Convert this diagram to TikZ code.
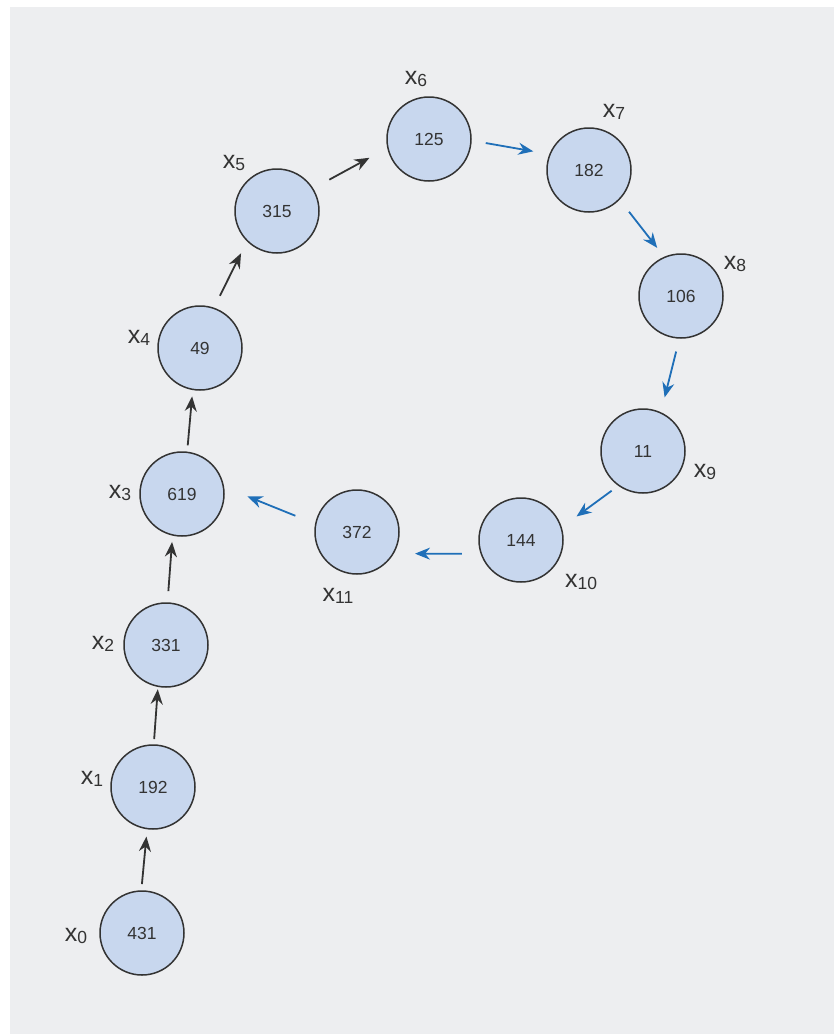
\documentclass[tikz,border=0pt]{standalone}
\usepackage{fontspec}
\setmainfont{Liberation Sans}
\usetikzlibrary{arrows.meta}
\definecolor{bg}{HTML}{EDEEF0}
\definecolor{nodefill}{HTML}{C8D7EE}
\definecolor{ink}{HTML}{333333}
\definecolor{blueline}{HTML}{1F6FB8}
\newcommand{\lbl}[1]{{\fontsize{25}{25}\selectfont x}\raisebox{-2.5pt}{\fontsize{17.5}{17.5}\selectfont #1}}
\tikzset{
  numnode/.style={circle, draw=ink, line width=1.5pt, fill=nodefill, minimum size=84pt, inner sep=0pt, outer sep=0pt, text=ink, font=\fontsize{17.5}{17.5}\selectfont},
  lab/.style={text=ink, inner sep=0pt},
  blk/.style={-{Stealth[length=15pt,width=12pt]}, draw=ink, line width=1.8pt},
  blu/.style={-{Stealth[length=15pt,width=12pt]}, draw=blueline, line width=1.8pt}
}
\begin{document}
\begin{tikzpicture}[x=1pt,y=-1pt]
\useasboundingbox (0,0) rectangle (834,1034);
\fill[white] (0,0) rectangle (834,1034);
\fill[bg] (10,7) rectangle (834,1034);
\node[numnode] (n0) at (142,933) {431};
\node[numnode] (n1) at (153,787) {192};
\node[numnode] (n2) at (166,645) {331};
\node[numnode] (n3) at (182,494) {619};
\node[numnode] (n4) at (200,348) {49};
\node[numnode] (n5) at (277,211) {315};
\node[numnode] (n6) at (429,139) {125};
\node[numnode] (n7) at (589,170) {182};
\node[numnode] (n8) at (681,296) {106};
\node[numnode] (n9) at (643,451) {11};
\node[numnode] (n10) at (521,540) {144};
\node[numnode] (n11) at (357,532) {372};
\node[lab] (l0) at (76,936) {\lbl{0}};
\node[lab] (l1) at (92,779) {\lbl{1}};
\node[lab] (l2) at (103,644) {\lbl{2}};
\node[lab] (l3) at (120,493) {\lbl{3}};
\node[lab] (l4) at (139,338) {\lbl{4}};
\node[lab] (l5) at (234,163) {\lbl{5}};
\node[lab] (l6) at (416,79) {\lbl{6}};
\node[lab] (l7) at (614,112) {\lbl{7}};
\node[lab] (l8) at (735,264) {\lbl{8}};
\node[lab] (l9) at (705,472) {\lbl{9}};
\node[lab] (l10) at (581,582) {\lbl{10}};
\node[lab] (l11) at (338,596) {\lbl{11}};
\draw[blk, shorten <=7pt, shorten >=8pt] (n0.91) -- (n1.262);
\draw[blk, shorten <=6pt, shorten >=3pt] (n1.89) -- (n2.259);
\draw[blk, shorten <=12pt, shorten >=7pt] (n2.88) -- (n3.257);
\draw[blk, shorten <=7pt, shorten >=7pt] (n3.83) -- (n4.260);
\draw[blk, shorten <=14pt, shorten >=14pt] (n4.71) -- (n5.225);
\draw[blk, shorten <=19pt, shorten >=21pt] (n5.32) -- (n6.192);
\draw[blu, shorten <=15pt, shorten >=17pt] (n6.358) -- (n7.158);
\draw[blu, shorten <=16pt, shorten >=12pt] (n7.316) -- (n8.113);
\draw[blu, shorten <=14pt, shorten >=16pt] (n8.268) -- (n9.65);
\draw[blu, shorten <=9pt, shorten >=19pt] (n9.235) -- (n10.17);
\draw[blu, shorten <=19.5pt, shorten >=22pt] (n10.199.1) -- (n11.329);
\draw[blu, shorten <=22pt, shorten >=26pt] (n11.169) -- (n3.10);
\end{tikzpicture}
\end{document}
